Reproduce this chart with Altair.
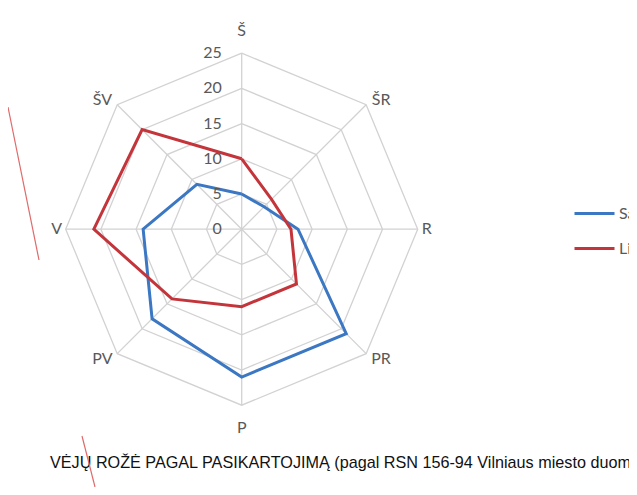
import altair as alt
import pandas as pd

directions = ["Š", "ŠR", "R", "PR", "P", "PV", "V", "ŠV"]
sausis = [5, 4.5, 8, 21, 21, 18, 14, 9]
liepa = [10, 6, 7, 11, 11, 14, 21, 20]
series_names = ["Sausis", "Liepa"]
levels = [0, 5, 10, 15, 20, 25]
caption = "VĖJŲ ROŽĖ PAGAL PASIKARTOJIMĄ (pagal RSN 156-94 Vilniaus miesto duomenis)"

K = 7.04
CX, CY = 233.7, 221.2
W, H = 621, 479
xdom = [-CX / K, (W - CX) / K]
ydom = [-(H - CY) / K, CY / K]

rows = []
for name, vals in zip(series_names, [sausis, liepa]):
    for i in range(len(directions) + 1):
        rows.append({"series": name, "ord": i, "idx": i % len(directions),
                     "value": vals[i % len(directions)]})
df_series = pd.DataFrame(rows)

grid_rows = []
for lv in levels[1:]:
    for i in range(len(directions) + 1):
        grid_rows.append({"level": lv, "ord": i, "idx": i % len(directions)})
df_grid = pd.DataFrame(grid_rows)

df_dirs = pd.DataFrame({"dir": directions, "idx": list(range(len(directions)))})
df_levels = pd.DataFrame({"level": levels, "label": [str(v) for v in levels]})

xs = alt.Scale(domain=xdom, nice=False, zero=False)
ys = alt.Scale(domain=ydom, nice=False, zero=False)
NOAX = None

ang = "datum.idx * PI / 4"

grid = alt.Chart(df_grid).transform_calculate(
    gx=f"datum.level * sin({ang})", gy=f"datum.level * cos({ang})"
).mark_line(color="#d2d2d2", strokeWidth=1.3).encode(
    x=alt.X("gx:Q", scale=xs, axis=NOAX),
    y=alt.Y("gy:Q", scale=ys, axis=NOAX),
    detail="level:N",
    order="ord:Q",
)

spokes = alt.Chart(df_dirs).transform_calculate(
    x0="0", y0="0",
    sx=f"25 * sin({ang})", sy=f"25 * cos({ang})"
).mark_rule(color="#d2d2d2", strokeWidth=1.3).encode(
    x=alt.X("x0:Q", scale=xs, axis=NOAX),
    y=alt.Y("y0:Q", scale=ys, axis=NOAX),
    x2="sx:Q", y2="sy:Q",
)

lines = alt.Chart(df_series).transform_calculate(
    px=f"datum.value * sin({ang})", py=f"datum.value * cos({ang})"
).mark_line(strokeWidth=3, strokeJoin="miter").encode(
    x=alt.X("px:Q", scale=xs, axis=NOAX),
    y=alt.Y("py:Q", scale=ys, axis=NOAX),
    color=alt.Color("series:N",
                    scale=alt.Scale(domain=series_names, range=["#3b77c2", "#c3353b"]),
                    legend=alt.Legend(title=None, orient="none", legendX=565, legendY=184,
                                      symbolType="stroke", symbolSize=1600,
                                      symbolStrokeWidth=3, labelFontSize=16,
                                      labelFont="Lato", labelColor="#595959",
                                      labelOffset=3, rowPadding=5, padding=0)),
    order="ord:Q",
)

tick_labels = alt.Chart(df_levels).transform_calculate(
    tx="0", ty="datum.level"
).mark_text(align="right", baseline="middle", dx=-20, fontSize=16,
            font="Lato", color="#595959").encode(
    x=alt.X("tx:Q", scale=xs, axis=NOAX),
    y=alt.Y("ty:Q", scale=ys, axis=NOAX),
    text="label:N",
)

dir_labels = alt.Chart(df_dirs).transform_calculate(
    lx=f"sin({ang}) * (26.3 + 2.4 * abs(cos({ang})))",
    ly=f"cos({ang}) * (23.8 + 4.4 * cos({ang}) * cos({ang}))",
).mark_text(align="center", baseline="middle", fontSize=16,
            font="Lato", color="#595959").encode(
    x=alt.X("lx:Q", scale=xs, axis=NOAX),
    y=alt.Y("ly:Q", scale=ys, axis=NOAX),
    text="dir:N",
)

cap = alt.Chart(pd.DataFrame({"t": [caption]})).mark_text(
    align="left", baseline="alphabetic", fontSize=16.2,
    font="Liberation Sans, Arial", color="#111111"
).encode(x=alt.value(42), y=alt.value(460), text="t:N")

deco1 = alt.Chart(pd.DataFrame({"a": [0]})).mark_rule(color="#e06a6a", strokeWidth=1.2).encode(
    x=alt.value(0), y=alt.value(99), x2=alt.value(31), y2=alt.value(252))
deco2 = alt.Chart(pd.DataFrame({"a": [0]})).mark_rule(color="#e06a6a", strokeWidth=1.2).encode(
    x=alt.value(74), y=alt.value(428), x2=alt.value(87), y2=alt.value(479))

chart = alt.layer(grid, spokes, lines, tick_labels, dir_labels, cap, deco1, deco2).properties(
    width=W, height=H, autosize=alt.AutoSizeParams(type="none"), padding=0
).configure_view(stroke=None)

chart.save("out.html", embed_options={"renderer": "svg", "actions": False})
